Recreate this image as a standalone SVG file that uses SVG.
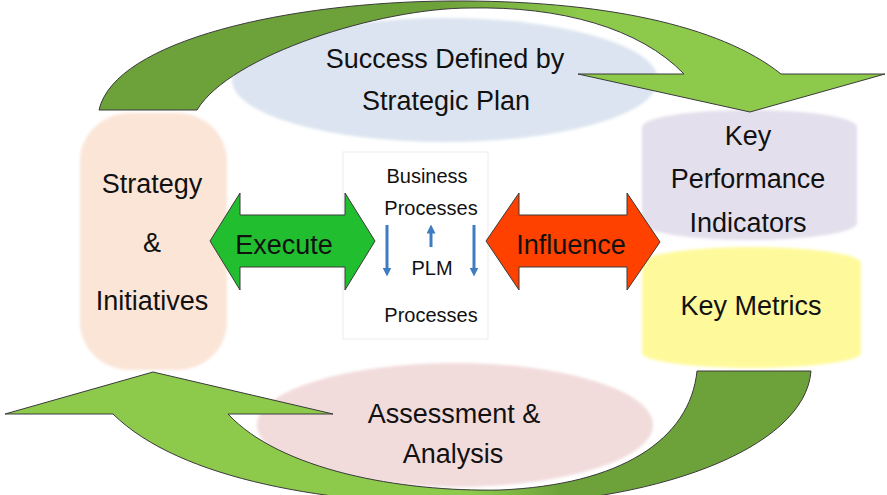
<svg xmlns="http://www.w3.org/2000/svg" width="887" height="495" viewBox="0 0 887 495">
<defs>
<style>
text{font-family:"Liberation Sans",Arial,sans-serif;fill:#111;text-anchor:middle}
.big{font-size:27px}
.mid{font-size:20px}
.blk{stroke:#3a3a3a;stroke-width:1}
.blue{stroke:#3f7cc2;stroke-width:3;fill:none}
</style>
<filter id="soft" x="-10%" y="-10%" width="120%" height="120%"><feGaussianBlur stdDeviation="1.5"/></filter>
<linearGradient id="gTop" gradientUnits="userSpaceOnUse" x1="440" y1="0" x2="580" y2="0">
<stop offset="0" stop-color="#6da23a"/><stop offset="1" stop-color="#8dc94b"/>
</linearGradient>
<linearGradient id="gBot" gradientUnits="userSpaceOnUse" x1="470" y1="0" x2="560" y2="0">
<stop offset="0" stop-color="#8dc94b"/><stop offset="1" stop-color="#6da23a"/>
</linearGradient>
<marker id="ah" viewBox="0 0 6 6" refX="3" refY="3" markerWidth="3" markerHeight="3" orient="auto">
<path d="M0,0 L6,3 L0,6 Z" fill="#3f7cc2"/>
</marker>
</defs>
<rect width="887" height="495" fill="#fff"/>

<g id="success">
<ellipse cx="445" cy="80" rx="213" ry="62" fill="#dbe4f0" filter="url(#soft)"/>
<text class="big" x="445" y="68">Success Defined by</text>
<text class="big" x="446" y="110">Strategic Plan</text>
</g>

<g id="assessment">
<ellipse cx="455" cy="425" rx="198" ry="62" fill="#f2dbdb" filter="url(#soft)"/>
<text class="big" x="454" y="423">Assessment &amp;</text>
<text class="big" x="453" y="463">Analysis</text>
</g>

<g id="strategy">
<rect x="80" y="113" width="147" height="257" rx="50" ry="48" fill="#fbe5d7" filter="url(#soft)"/>
<text class="big" x="152" y="193">Strategy</text>
<text class="big" x="152" y="252">&amp;</text>
<text class="big" x="152" y="310">Initiatives</text>
</g>

<g id="kpi">
<path d="M642,127 A107.5,17 0 0 1 857,127 L857,223 A107.5,17 0 0 1 642,223 Z" fill="#e4dfec" filter="url(#soft)"/>
<text class="big" x="748" y="145">Key</text>
<text class="big" x="748" y="188">Performance</text>
<text class="big" x="748" y="232">Indicators</text>
</g>

<g id="metrics">
<path d="M642,263 A109.5,16 0 0 1 861,263 L861,353 A109.5,15 0 0 1 642,353 Z" fill="#fefa9c" filter="url(#soft)"/>
<text class="big" x="751" y="315">Key Metrics</text>
</g>

<g id="processes">
<rect x="343" y="152" width="145" height="187" fill="#fff" stroke="#ececec" stroke-width="1"/>
<text class="mid" x="427" y="183">Business</text>
<text class="mid" x="431" y="215">Processes</text>
<text class="mid" x="432" y="275">PLM</text>
<text class="mid" x="431" y="322">Processes</text>
<line class="blue" x1="387" y1="225" x2="387" y2="272" marker-end="url(#ah)"/>
<line class="blue" x1="474" y1="225" x2="474" y2="272" marker-end="url(#ah)"/>
<line class="blue" x1="431" y1="247" x2="431" y2="229" marker-end="url(#ah)"/>
</g>

<g id="connectors">
<path id="topArrow" class="blk" fill="url(#gTop)" d="M99,110 C115,40 290,2 450,1 C600,0 720,25 781,74 L885,74 L750,112 L578,74 L684,74 C640,28 560,6 470,8 C380,8 230,55 197,110 Z"/>
<path id="bottomArrow" class="blk" fill="url(#gBot)" d="M811,371 C805,450 650,505 480,505 C330,505 180,480 113,414 L5,414 L153,372 L333,414 L228,414 C280,470 400,492 500,490 C620,485 690,440 697,371 Z"/>
<g id="execute">
<path class="blk" fill="#21bf30" d="M210,241 L240,193 L240,215 L345,215 L345,193 L375,241 L345,290 L345,267 L240,267 L240,290 Z"/>
<text class="big" x="284" y="254">Execute</text>
</g>
<g id="influence">
<path class="blk" fill="#ff4100" d="M486,241 L519,193 L519,215 L627,215 L627,193 L660,242 L627,290 L627,267 L519,267 L519,290 Z"/>
<text class="big" x="571" y="254">Influence</text>
</g>
</g>
</svg>
